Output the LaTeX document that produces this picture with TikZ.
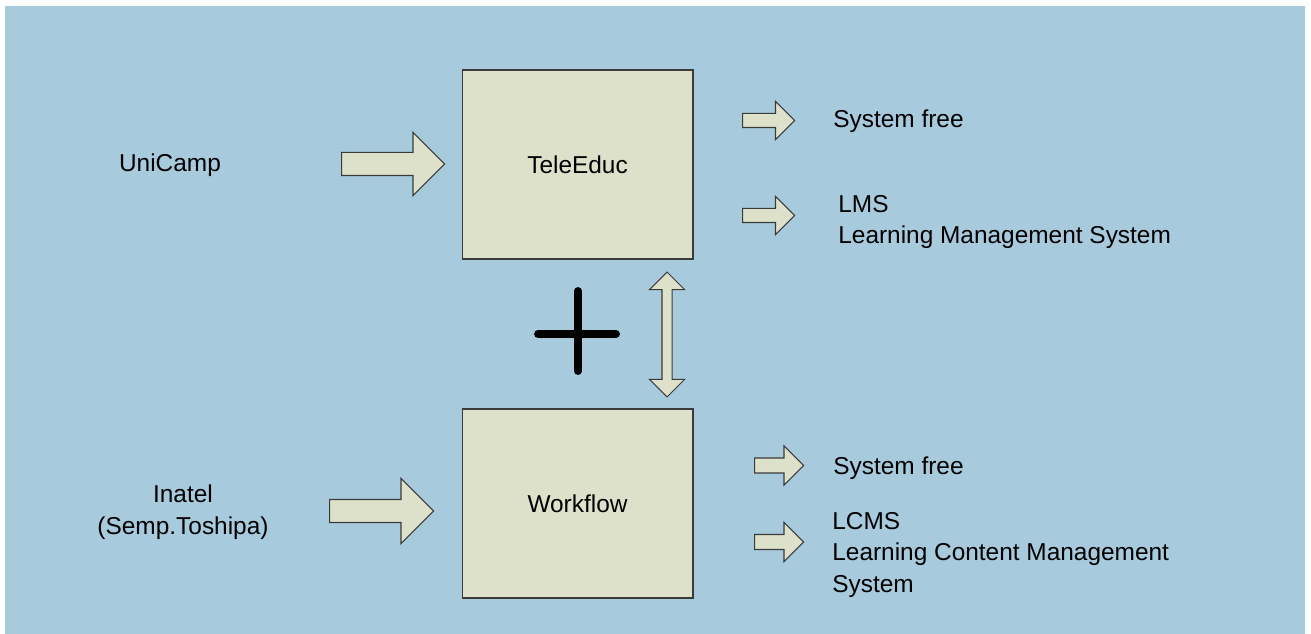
\documentclass[tikz,border=0pt]{standalone}
\usepackage{fontspec}
\setmainfont{Liberation Sans}
\usetikzlibrary{shapes.arrows}
\definecolor{skyback}{HTML}{A8CADD}
\definecolor{boxbeige}{HTML}{DEE1CA}
\definecolor{edgegray}{HTML}{3A3A3A}
\begin{document}
\begin{tikzpicture}[x=0.02cm,y=-0.02cm,
    font=\fontsize{13.9pt}{18.1pt}\selectfont,
    sysbox/.style={draw=edgegray,fill=boxbeige,line width=0.6pt,minimum width=4.62cm,minimum height=3.78cm,inner sep=0pt},
    fatarrow/.style={single arrow,draw=edgegray,fill=boxbeige,line width=0.6pt,inner xsep=0pt,anchor=tail},
    twoarrow/.style={double arrow,draw=edgegray,fill=boxbeige,line width=0.6pt,inner xsep=0pt},
    lbl/.style={align=left,anchor=west,inner sep=0pt}]
    \useasboundingbox (0,0) rectangle (1311,634);
    \fill[skyback] (5,6) rectangle (1305,634);
    % the two systems
    \node[sysbox] (tele) at (577.5,164.5) {TeleEduc};
    \node[sysbox] (work) at (577.5,503.5) {Workflow};
    % sources
    \node (unicamp) at (170,165) {UniCamp};
    \node[align=center,inner sep=0pt] (inatel) at (183,512) {Inatel\\(Semp.Toshipa)};
    \node[fatarrow,minimum height=2.06cm,inner ysep=0.22cm,single arrow head extend=0.40cm] (inuni) at (341,164) {};
    \node[fatarrow,minimum height=2.08cm,inner ysep=0.22cm,single arrow head extend=0.42cm] (ininatel) at (329,511) {};
    % results
    \node[fatarrow,minimum height=1.04cm,inner ysep=0.13cm,single arrow head extend=0.24cm] (outfreeA) at (742,120.5) {};
    \node[fatarrow,minimum height=1.04cm,inner ysep=0.13cm,single arrow head extend=0.24cm] (outlms) at (742,215.5) {};
    \node[fatarrow,minimum height=0.98cm,inner ysep=0.14cm,single arrow head extend=0.24cm] (outfreeB) at (754,465.5) {};
    \node[fatarrow,minimum height=0.98cm,inner ysep=0.14cm,single arrow head extend=0.24cm] (outlcms) at (754,542) {};
    \node[lbl] (freeA) at (833,121) {System free};
    \node[lbl] (lms) at (838,222) {LMS\\Learning Management System};
    \node[lbl] (freeB) at (833,468) {System free};
    \node[lbl] (lcms) at (832,555) {LCMS\\Learning Content Management\\System};
    % link and plus
    \node[twoarrow,rotate=90,minimum height=2.5cm,inner ysep=0.09cm,double arrow head extend=0.25cm] (both) at (667,334.5) {};
    \draw[line width=4.5pt,line cap=round] (578,291) -- (578,371);
    \draw[line width=4.5pt,line cap=round] (538,334) -- (616,334);
    \fill (578,334) circle (6);
\end{tikzpicture}
\end{document}
